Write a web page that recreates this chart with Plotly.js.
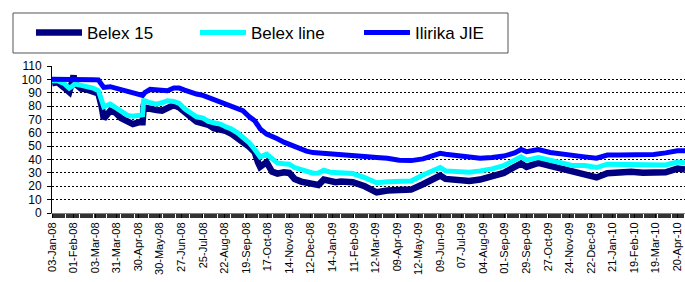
<!DOCTYPE html>
<html>
<head>
<meta charset="utf-8">
<script src="https://cdn.plot.ly/plotly-3.0.1.min.js"></script>
<style>
html,body{margin:0;padding:0;background:#fff;}
#chart{width:685px;height:282px;}
</style>
</head>
<body>
<div id="chart"></div>
<script>
// trading-day index of each sampled point
var dayIndex = [0,5,11,16,19,20,21,27,32,38,43,46,48,54,59,64,70,75,81,84,85,86,91,97,102,107,113,118,123,129,134,140,145,150,156,161,166,172,177,183,188,191,193,199,204,209,215,220,225,231,236,242,247,252,258,263,268,279,290,301,311,322,333,344,354,360,365,376,387,397,408,419,429,435,440,451,462,472,483,494,505,515,526,537,548,558,569,580,587];

var belex15 = [97,98,94,90.5,99,103,97,93,92.5,91,89.5,80,70.5,76.5,75,71,68,66.5,68,68,79,79,78,77,76.5,78.5,80.8,79,75.5,72.5,68.5,67,66,63.5,63,61.5,59.5,56.5,53,49.5,45.5,38,34.5,38,31,29.5,30.5,30,25.5,23.5,23,22,21,25,23.5,23,23.5,23,20,15.5,16.8,16.8,17.5,21.5,25,28,25.5,24.5,24,25,27,30,34.5,37,34.5,37.5,35.2,33.2,31,28.8,26.6,29.8,30.5,30.8,30.2,29.8,30.5,33.2,32.6];

var belexLine = [99,99,97,93.5,95,96.5,96.5,95.5,95,93.5,91.5,85,79.5,81.5,79,76,73,72.5,73.5,73.5,84,84,82.5,81.5,82.5,84,83.5,82,78,75,72,71,68.5,67.5,66.5,64.5,63,60,56.5,52.5,47.5,44,42,44,41,37.5,36.8,36.5,34,32.5,31,29.8,30,32,30.5,30.2,29.8,29.5,26.5,22.6,23.3,23.2,24,28.5,31.5,34,31.5,30.8,30.5,31.5,33,35.5,39.5,42,39.5,41.5,39.5,37.2,35.5,35.5,34,36.5,36.5,36.5,36.5,36,36,38.2,37.6];

var ilirika = [100,100,100,100,100.5,100.5,100.5,100,100,99.8,99.5,96.5,94,94.5,93.5,92.5,91,90,89,88,89,90,92.5,92,91.5,91.5,93.5,93.5,92,90,89,88,86.5,85,83.5,81.5,80,78,76.5,72,69,65.5,63,59,57.5,55.5,53,51.5,50,47.5,46.3,45.2,44.8,44.5,44.3,44.2,44,43,42.2,41.5,41,39.5,39.2,40.5,42.5,44.6,44,43,42,41,41.5,42.6,45,47.5,45.9,47.5,45.3,44,42.5,42,41,43.4,43.4,43.5,43.4,43.8,45,46.6,46.6];

var tickLabels = ["03-Jan-08","01-Feb-08","03-Mar-08","31-Mar-08","30-Apr-08","30-May-08","27-Jun-08","25-Jul-08","22-Aug-08","19-Sep-08","17-Oct-08","14-Nov-08","12-Dec-08","14-Jan-09","11-Feb-09","12-Mar-09","09-Apr-09","12-May-09","09-Jun-09","07-Jul-09","04-Aug-09","01-Sep-09","29-Sep-09","27-Oct-09","24-Nov-09","22-Dec-09","21-Jan-10","19-Feb-10","19-Mar-10","20-Apr-10"];
var tickStep = 20;
var tickVals = tickLabels.map(function(_, i){ return i * tickStep; });

var yTicks = [0,10,20,30,40,50,60,70,80,90,100,110];

var FONT = 'Liberation Sans, Arial, sans-serif';

var traces = [
  {x: dayIndex, y: belex15, name: 'Belex 15', type: 'scatter', mode: 'lines',
   line: {color: '#000080', width: 6.5}},
  {x: dayIndex, y: belexLine, name: 'Belex line', type: 'scatter', mode: 'lines',
   line: {color: '#00FFFF', width: 5}},
  {x: dayIndex, y: ilirika, name: 'Ilirika JIE', type: 'scatter', mode: 'lines',
   line: {color: '#0000FF', width: 5}}
];

var layout = {
  width: 685, height: 282,
  margin: {l: 52, r: 0, t: 66, b: 69, pad: 0},
  paper_bgcolor: '#ffffff', plot_bgcolor: '#ffffff',
  font: {family: FONT, color: '#000'},
  showlegend: true,
  legend: {
    orientation: 'h', x: -0.0332, xanchor: 'left', y: 1.2245, yanchor: 'middle',
    font: {family: FONT, size: 17, color: '#000'},
    bgcolor: 'rgba(0,0,0,0)', borderwidth: 0,
    itemwidth: 46, entrywidth: 103, traceorder: 'normal'
  },
  xaxis: {
    range: [0, 587], tickmode: 'array', tickvals: tickVals, ticktext: tickLabels,
    tickangle: -90, tickfont: {family: FONT, size: 11, color: '#000'},
    showgrid: false, zeroline: false, showline: true, linecolor: '#808080', linewidth: 1,
    ticks: 'outside', ticklen: 4, tickcolor: '#000', tickwidth: 1,
    minor: {dtick: 1, ticks: 'outside', ticklen: 4, tickcolor: '#333', tickwidth: 1, showgrid: false}
  },
  yaxis: {
    range: [0, 110], tickmode: 'array', tickvals: yTicks,
    tickfont: {family: FONT, size: 12, color: '#000'},
    ticklabelstandoff: 3,
    showgrid: true, gridcolor: '#000', gridwidth: 1, griddash: '2px,2px',
    zeroline: false, showline: true, linecolor: '#000', linewidth: 1,
    ticks: 'outside', ticklen: 4, tickcolor: '#000'
  },
  shapes: [
    {type: 'rect', xref: 'paper', yref: 'paper',
     x0: (13 - 52) / 633, x1: (508 - 52) / 633, y0: (213 - 53) / 147, y1: (213 - 13) / 147,
     line: {color: '#555', width: 1}, fillcolor: 'rgba(0,0,0,0)'}
  ]
};

Plotly.newPlot('chart', traces, layout, {staticPlot: true, displayModeBar: false});
</script>
</body>
</html>
